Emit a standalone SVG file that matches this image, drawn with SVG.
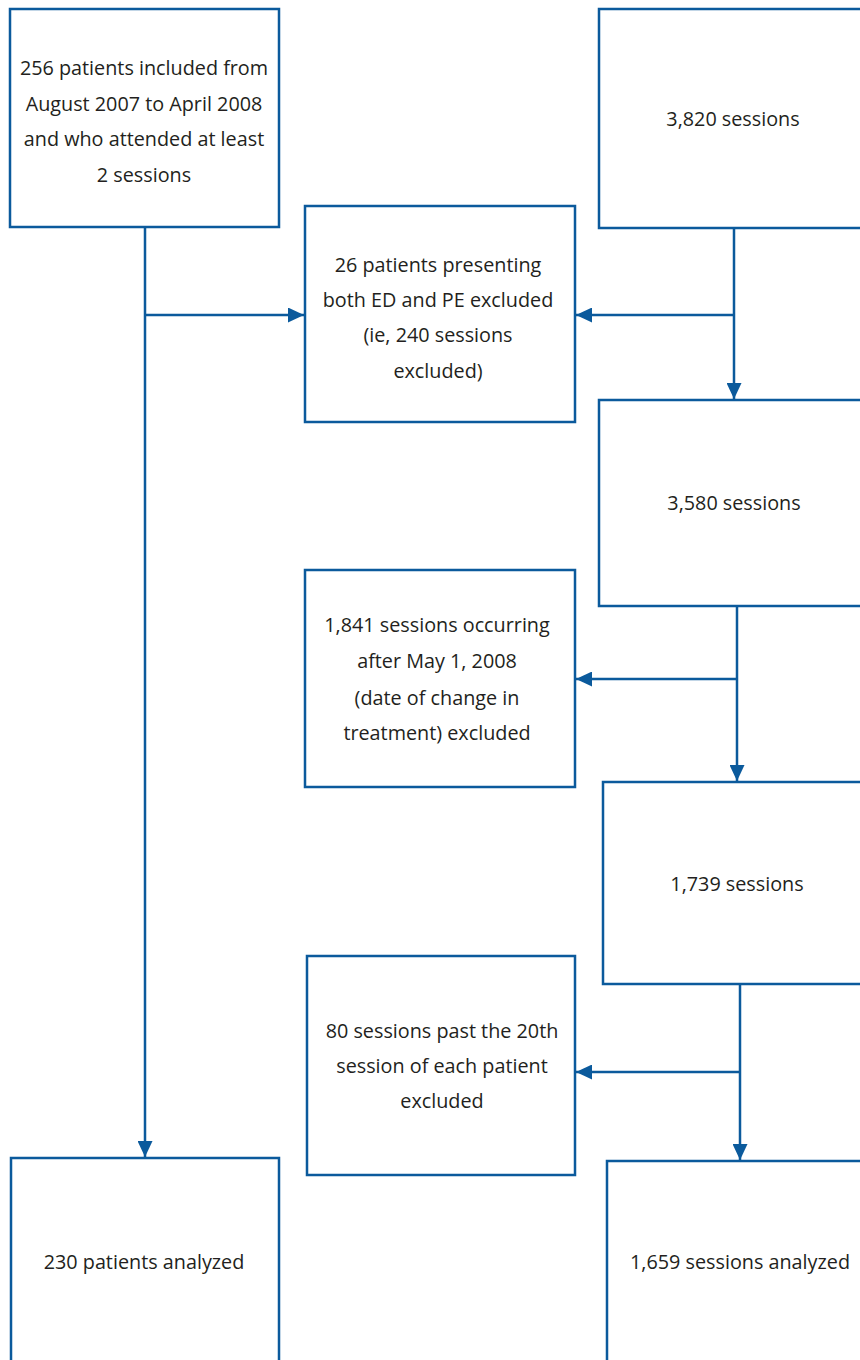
<svg xmlns="http://www.w3.org/2000/svg" width="860" height="1360" viewBox="0 0 860 1360">
<style>
.box{fill:#fff;stroke:#0b5a9c;stroke-width:2.5}
.ln{fill:none;stroke:#0b5a9c;stroke-width:2.5}
text{font-family:"Open Sans","Liberation Sans",sans-serif;font-size:19.8px;fill:#231f20;text-anchor:middle}
</style>
<defs>
<marker id="ah" viewBox="0 0 16 15" refX="16" refY="7.5" markerWidth="16" markerHeight="15" markerUnits="userSpaceOnUse" orient="auto">
<path d="M0,0 L16,7.5 L0,15 Z" fill="#0b5a9c"/>
</marker>
</defs>
<rect width="860" height="1360" fill="#fff"/>
<g id="connectors">
<path class="ln" d="M145,227 V1157" marker-end="url(#ah)"/>
<path class="ln" d="M145,315 H304" marker-end="url(#ah)"/>
<path class="ln" d="M734,228 V399" marker-end="url(#ah)"/>
<path class="ln" d="M734,315 H576" marker-end="url(#ah)"/>
<path class="ln" d="M737,606 V781" marker-end="url(#ah)"/>
<path class="ln" d="M737,679 H576" marker-end="url(#ah)"/>
<path class="ln" d="M740,984 V1160" marker-end="url(#ah)"/>
<path class="ln" d="M740,1072 H576" marker-end="url(#ah)"/>
</g>
<g id="n1"><rect class="box" x="10" y="9" width="269" height="218"/>
<text x="144" y="75">256 patients included from</text>
<text x="144" y="111">August 2007 to April 2008</text>
<text x="144" y="146">and who attended at least</text>
<text x="144" y="182">2 sessions</text></g>
<g id="n2"><rect class="box" x="599" y="9" width="280" height="219"/>
<text x="733" y="126">3,820 sessions</text></g>
<g id="n3"><rect class="box" x="305" y="206" width="270" height="216"/>
<text x="438" y="272">26 patients presenting</text>
<text x="438" y="307">both ED and PE excluded</text>
<text x="438" y="342">(ie, 240 sessions</text>
<text x="438" y="378">excluded)</text></g>
<g id="n4"><rect class="box" x="599" y="400" width="280" height="206"/>
<text x="734" y="510">3,580 sessions</text></g>
<g id="n5"><rect class="box" x="305" y="570" width="270" height="217"/>
<text x="437" y="632">1,841 sessions occurring</text>
<text x="437" y="668">after May 1, 2008</text>
<text x="437" y="705">(date of change in</text>
<text x="437" y="740">treatment) excluded</text></g>
<g id="n6"><rect class="box" x="603" y="782" width="280" height="202"/>
<text x="737" y="891">1,739 sessions</text></g>
<g id="n7"><rect class="box" x="307" y="956" width="268" height="219"/>
<text x="442" y="1038">80 sessions past the 20th</text>
<text x="442" y="1073">session of each patient</text>
<text x="442" y="1108">excluded</text></g>
<g id="n8"><rect class="box" x="11" y="1158" width="268" height="220"/>
<text x="144" y="1269">230 patients analyzed</text></g>
<g id="n9"><rect class="box" x="607" y="1161" width="280" height="220"/>
<text x="740" y="1269">1,659 sessions analyzed</text></g>
</svg>
